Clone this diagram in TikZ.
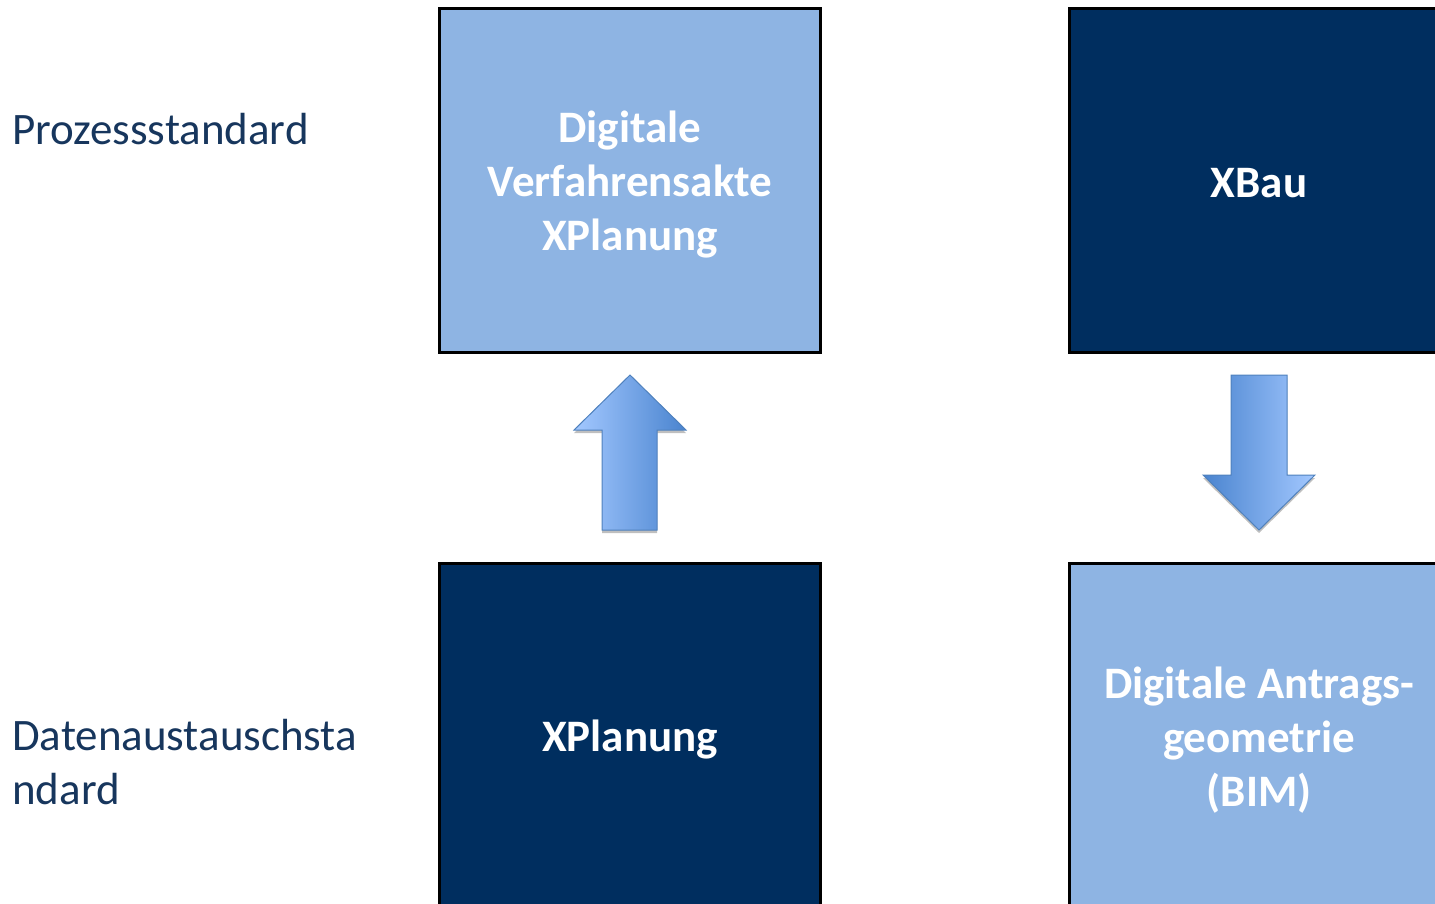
\documentclass[tikz,border=0pt]{standalone}
\usepackage{fontspec}
\setmainfont{Carlito}
\usetikzlibrary{calc,shadows}
\definecolor{lightbox}{HTML}{8EB4E3}
\definecolor{darkbox}{HTML}{002E5F}
\definecolor{labelblue}{HTML}{17365D}
\definecolor{arrowlight}{HTML}{A3C8FF}
\definecolor{arrowdark}{HTML}{4A84CF}
\definecolor{arrowline}{HTML}{4F81BD}
\tikzset{
  box/.style={draw=black, line width=3pt, inner sep=0pt},
  boxtext/.style={text=white, font=\fontsize{45}{54}\selectfont\bfseries, align=center, inner sep=0pt},
  sidelabel/.style={text=labelblue, font=\fontsize{45}{54}\selectfont, align=left, anchor=west, inner sep=0pt},
  blockarrow/.style={draw=arrowline, line width=1pt, line join=miter,
    drop shadow={shadow xshift=0pt, shadow yshift=-3pt, opacity=0.25, fill=black}},
}
\begin{document}
\begin{tikzpicture}[x=1pt,y=-1pt]
\useasboundingbox (0,0) rectangle (1435,904);
\clip (0,0) rectangle (1435,904);
% boxes
\draw[box, fill=lightbox] (439,9) rectangle (820,352);
\draw[box, fill=darkbox] (1069,9) rectangle (1450,352);
\draw[box, fill=darkbox] (439,563) rectangle (820,920);
\draw[box, fill=lightbox] (1069,563) rectangle (1450,920);
% box texts
\node[boxtext] (t1) at (630,185) {Digitale\\Verfahrensakte\\XPlanung};
\node[boxtext] (t2) at (1259,183) {XBau};
\node[boxtext] (t3) at (630,740) {XPlanung};
\node[boxtext] (t4) at (1259,740) {Digitale Antrags-\\geometrie\\(BIM)};
% side labels
\node[sidelabel] (l1) at (12,129) {Prozessstandard};
\node[sidelabel] (l2) at (12,762) {Datenaustauschsta\\ndard};
% up arrow
\shade[blockarrow, left color=arrowlight, right color=arrowdark]
  (630,375) -- (686,430) -- (657,430) -- (657,530) -- (602,530) -- (602,430) -- (574,430) -- cycle;
% down arrow
\shade[blockarrow, left color=arrowdark, right color=arrowlight]
  (1231,375) -- (1287,375) -- (1287,475) -- (1315,475) -- (1259,530) -- (1203,475) -- (1231,475) -- cycle;
\end{tikzpicture}
\end{document}
